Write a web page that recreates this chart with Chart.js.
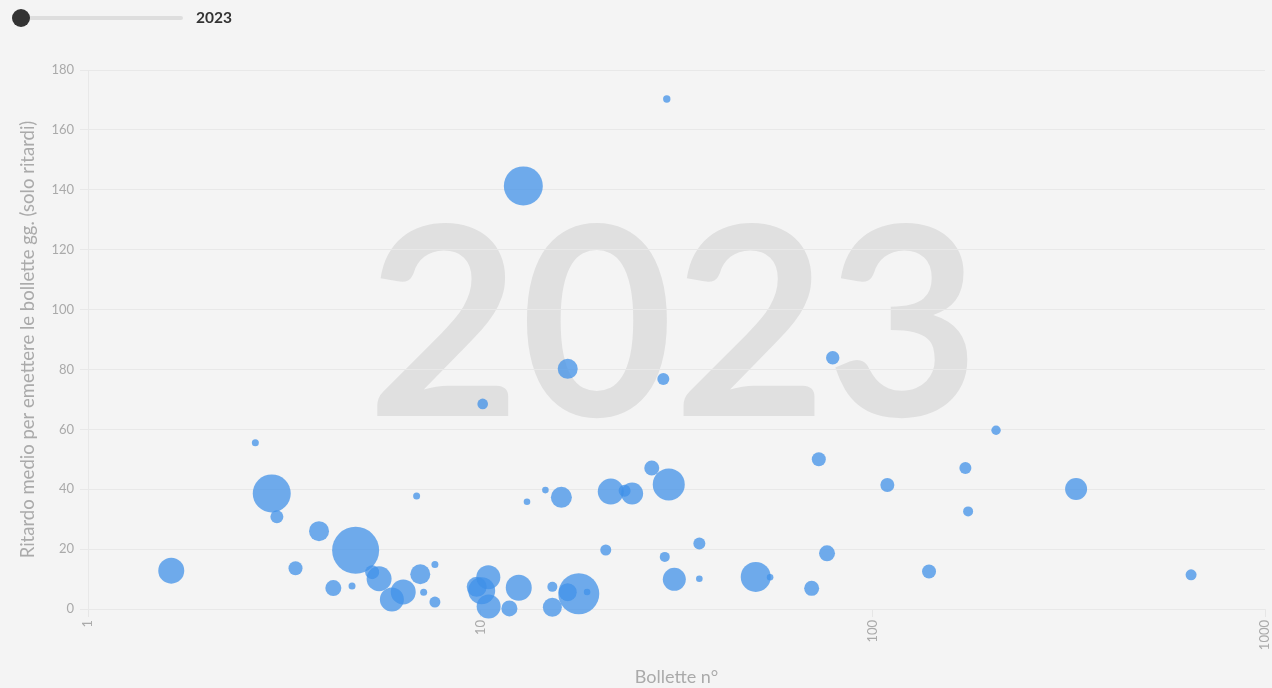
<!DOCTYPE html>
<html lang="it">
<head>
<meta charset="utf-8">
<title>Bollette 2023</title>
<script src="https://cdn.jsdelivr.net/npm/chart.js@4.4.1/dist/chart.umd.min.js"></script>
<style>
  html, body { margin: 0; padding: 0; background: #f4f4f4; width: 1272px; height: 688px; overflow: hidden; font-family: Lato, "Open Sans", sans-serif; }
  #wrap { position: absolute; left: 0; top: 0; width: 1272px; height: 688px; }
  #chart { position: absolute; left: 0; top: 0; }
  #slider { position: absolute; left: 12px; top: 9px; width: 172px; height: 18px; }
  #track { position: absolute; left: 9px; top: 7px; width: 162px; height: 4px; background: #dedede; border-radius: 2px; }
  #knob { position: absolute; left: 0; top: 0; width: 18px; height: 18px; border-radius: 50%; background: #333; }
  #year { position: absolute; left: 196px; top: 8px; font-weight: 700; font-size: 15.5px; line-height: 18px; color: #333; }
</style>
</head>
<body>
<div id="wrap">
  <canvas id="chart" width="1272" height="688"></canvas>
  <div id="slider"><div id="track"></div><div id="knob"></div></div>
  <div id="year">2023</div>
</div>
<script>
// ---- data ----
const anno = "2023";
const xTitle = "Bollette n°";
const yTitle = "Ritardo medio per emettere le bollette gg. (solo ritardi)";
const xTicks = [1, 10, 100, 1000];
const yTicks = [0, 20, 40, 60, 80, 100, 120, 140, 160, 180];

const bolletteN = [2.67, 2.94, 3.03, 3.88, 3.38, 1.63, 4.22, 4.81, 6.88, 4.71,
  5.30, 5.52, 5.95, 6.36, 7.03, 7.66, 7.17, 7.66, 9.79, 10.08,
  10.48, 10.50, 11.86, 12.53, 13.15, 14.65, 16.09, 15.26, 15.26, 16.70,
  17.82, 18.71, 20.88, 21.50, 23.32, 24.37, 27.35, 30.22, 29.52, 31.22,
  36.16, 36.16, 50.35, 54.77, 206.3, 72.9, 172.3, 109.0, 175.1, 76.5,
  139.2, 69.9, 29.87, 12.87, 16.70, 29.27, 79.1, 10.14, 330, 648];
const ritardoMedio = [55.5, 38.6, 30.8, 26.0, 13.6, 12.8, 7.0, 19.6, 37.7, 7.7,
  12.3, 10.1, 3.2, 5.7, 11.6, 14.9, 5.6, 2.3, 7.4, 6.1,
  10.6, 0.8, 0.2, 7.1, 35.8, 39.7, 37.3, 7.4, 0.6, 5.6,
  5.1, 5.7, 19.7, 39.2, 39.5, 38.6, 47.1, 41.6, 17.4, 9.9,
  21.9, 10.1, 10.7, 10.6, 59.7, 50.0, 47.1, 41.4, 32.6, 18.6,
  12.5, 6.9, 170.3, 141.3, 80.2, 76.8, 83.9, 68.5, 40.1, 11.4];
const dimensione = [3.5, 19, 6.5, 10, 7, 13, 8, 23.5, 3.5, 3.5,
  7, 12.5, 12, 12.5, 10, 3.5, 3.5, 5.5, 10, 13.5,
  12, 12, 8, 13, 3.3, 3.3, 10.5, 5, 9.5, 9,
  20.5, 3.3, 5.5, 13, 6, 11, 7.5, 16, 5, 11.5,
  6, 3.3, 15, 3.3, 4.7, 7, 6, 7, 5, 8,
  7, 7.5, 3.7, 19.5, 10, 6, 6.7, 5.3, 11, 5.5];

// ---- chart ----
const FONT = 'Lato, "Open Sans", sans-serif';
Chart.defaults.font.family = FONT;
Chart.defaults.color = '#aaaaaa';

// bubbles may overflow the plot area (as in the original): no extra layout padding for them
Chart.BubbleController.prototype.getMaxOverflow = function () { return 0; };

const points = bolletteN.map((x, i) => ({ x: x, y: ritardoMedio[i], r: dimensione[i] }));

const watermark = {
  id: 'watermark',
  beforeDraw(chart) {
    const ctx = chart.ctx;
    const a = chart.chartArea;
    ctx.save();
    ctx.fillStyle = '#e0e0e0';
    ctx.font = '700 264px ' + FONT;
    ctx.textAlign = 'center';
    ctx.textBaseline = 'alphabetic';
    ctx.fillText(anno, (a.left + a.right) / 2 - 3, 416);
    ctx.restore();
  }
};

new Chart(document.getElementById('chart'), {
  type: 'bubble',
  data: {
    datasets: [{
      data: points,
      backgroundColor: 'rgba(63,144,232,0.74)',
      borderWidth: 0,
      hoverBorderWidth: 0,
      clip: false
    }]
  },
  options: {
    responsive: false,
    animation: false,
    devicePixelRatio: 1,
    layout: { padding: { left: 10, top: 70, right: 7, bottom: 0 } },
    plugins: { legend: { display: false }, tooltip: { enabled: false } },
    scales: {
      x: {
        type: 'logarithmic',
        min: 1, max: 1000,
        afterBuildTicks(s) { s.ticks = xTicks.map(v => ({ value: v })); },
        afterFit(s) { s.height = 79; s.paddingLeft = 0; s.paddingRight = 0; },
        ticks: {
          minRotation: 90, maxRotation: 90, autoSkip: false,
          color: '#aaaaaa', font: { size: 13 }, padding: 3,
          callback: (v) => String(v)
        },
        grid: { drawOnChartArea: false, drawTicks: true, tickLength: 8, color: '#e6e6e6' },
        border: { display: true, color: '#e8e8e8' },
        title: { display: true, text: xTitle, color: '#aaaaaa', font: { size: 18 }, padding: { top: 0, bottom: 0 } }
      },
      y: {
        min: 0, max: 180,
        afterBuildTicks(s) { s.ticks = yTicks.map(v => ({ value: v })); },
        afterFit(s) { s.width = 78; },
        ticks: { color: '#aaaaaa', font: { size: 13 }, padding: 6 },
        grid: { color: '#e8e8e8', tickLength: 8, drawTicks: true },
        border: { display: true, color: '#e8e8e8' },
        title: { display: true, text: yTitle, color: '#aaaaaa', font: { size: 18.5 }, padding: { top: 7, bottom: 0 } }
      }
    }
  },
  plugins: [watermark]
});
</script>
</body>
</html>
